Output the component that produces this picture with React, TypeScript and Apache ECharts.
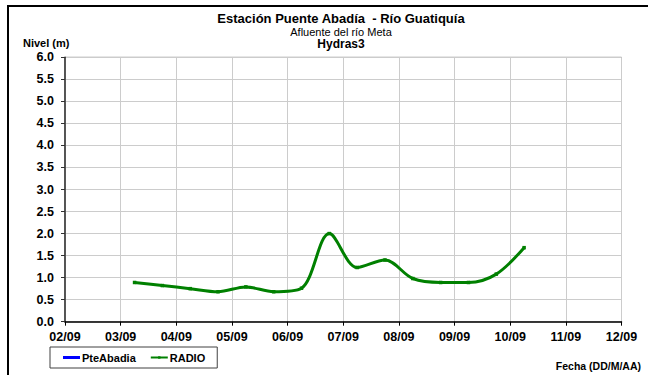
import React, { useEffect, useRef } from "react";
import * as echarts from "echarts";

const titleMain = "Estación Puente Abadía  - Río Guatiquía";
const titleSub = "Afluente del río Meta";
const titleStation = "Hydras3";
const yAxisName = "Nivel (m)";
const xAxisName = "Fecha (DD/M/AA)";
const seriesNames = ["PteAbadia", "RADIO"];

const radioTimes = [
  "03/09 06:00", "03/09 18:00", "04/09 06:00", "04/09 18:00", "05/09 06:00",
  "05/09 18:00", "06/09 06:00", "06/09 18:00", "07/09 06:00", "07/09 18:00",
  "08/09 06:00", "08/09 18:00", "09/09 06:00", "09/09 18:00", "10/09 06:00",
];
const radioValues = [
  0.89, 0.82, 0.75, 0.68, 0.79, 0.68, 0.76, 2.0, 1.23, 1.4, 0.98, 0.89, 0.89, 1.08, 1.68,
];
const pteAbadiaValues: number[][] = [];

const yMin = 0;
const yMax = 6;
const yStep = 0.5;
const xMinDay = 2;
const xMaxDay = 12;
const monthLabel = "09";

const toDay = (s: string) => parseInt(s.slice(0, 2), 10) + parseInt(s.slice(6, 8), 10) / 24;

export default function App() {
  const ref = useRef<HTMLDivElement>(null);
  useEffect(() => {
    if (!ref.current) return;
    const chart = echarts.init(ref.current, null, { renderer: "svg" });
    const font = "'Liberation Sans', Arial, sans-serif";
    chart.setOption({
      animation: false,
      backgroundColor: "#ffffff",
      textStyle: { fontFamily: font },
      title: [
        { text: titleMain, left: 341, top: 12, padding: 0, textAlign: "center", textStyle: { fontFamily: font, fontSize: 13, lineHeight: 13, fontWeight: "bold", color: "#000" } },
        { text: titleSub, left: 341, top: 26, padding: 0, textAlign: "center", textStyle: { fontFamily: font, fontSize: 11, lineHeight: 11, fontWeight: "normal", color: "#000" } },
        { text: titleStation, left: 341, top: 37.5, padding: 0, textAlign: "center", textStyle: { fontFamily: font, fontSize: 12, lineHeight: 12, fontWeight: "bold", color: "#000" } },
      ],
      grid: { left: 65, right: 26.5, top: 57.3, bottom: 53.3, show: true, borderColor: "#808080", borderWidth: 1 },
      legend: {
        left: 50,
        top: 347,
        width: 172,
        height: 19,
        padding: [5, 12, 5, 13],
        backgroundColor: "#fff",
        borderColor: "#404040",
        borderWidth: 1,
        borderRadius: 0,
        itemWidth: 17,
        itemHeight: 3,
        itemGap: 14,
        textStyle: { fontFamily: font, fontSize: 11, fontWeight: "bold", color: "#000", padding: [0, 0, 0, -3] },
        data: [{ name: seriesNames[0], icon: "rect" }, { name: seriesNames[1] }],
      },
      xAxis: {
        type: "value",
        min: xMinDay,
        max: xMaxDay,
        interval: 1,
        axisLine: { show: true, lineStyle: { color: "#000", width: 1.5 } },
        axisTick: { show: true, length: 4, lineStyle: { color: "#000" } },
        axisLabel: {
          margin: 9,
          fontFamily: font,
          fontSize: 12.5,
          fontWeight: "bold",
          color: "#000",
          formatter: (v: number) => String(Math.round(v)).padStart(2, "0") + "/" + monthLabel,
        },
        splitLine: { show: true, lineStyle: { color: "#cccccc", width: 1 } },
      },
      yAxis: {
        type: "value",
        min: yMin,
        max: yMax,
        interval: yStep,
        axisLine: { show: true, lineStyle: { color: "#303030", width: 1.5 } },
        axisTick: { show: true, length: 4, lineStyle: { color: "#303030" } },
        axisLabel: {
          margin: 11,
          fontFamily: font,
          fontSize: 12.5,
          fontWeight: "bold",
          color: "#000",
          formatter: (v: number) => v.toFixed(1),
        },
        splitLine: { show: true, lineStyle: { color: "#cccccc", width: 1 } },
      },
      graphic: [
        { type: "rect", shape: { x: 8, y: 6, width: 700, height: 500 }, style: { fill: "none", stroke: "#000", lineWidth: 2 }, silent: true },
        { type: "text", left: 23, top: 37, style: { text: yAxisName, font: "bold 11px " + font, fill: "#000" } },
        { type: "text", right: 7, top: 360, style: { text: xAxisName, font: "bold 10.5px " + font, fill: "#000" } },
      ],
      series: [
        {
          name: seriesNames[0],
          type: "line",
          data: pteAbadiaValues,
          showSymbol: false,
          symbol: "none",
          itemStyle: { color: "#0000ff" },
          lineStyle: { color: "#0000ff", width: 3 },
        },
        {
          name: seriesNames[1],
          type: "line",
          data: radioTimes.map((t, i) => [toDay(t), radioValues[i]]),
          smooth: 0.33,
          symbol: "rect",
          symbolSize: 3.5,
          itemStyle: { color: "#008000" },
          lineStyle: { color: "#008000", width: 3 },
        },
      ],
    });
    return () => chart.dispose();
  }, []);
  return (
    <div
      ref={ref}
      style={{ position: "absolute", left: 0, top: 0, width: 648, height: 375, background: "#fff" }}
    />
  );
}
